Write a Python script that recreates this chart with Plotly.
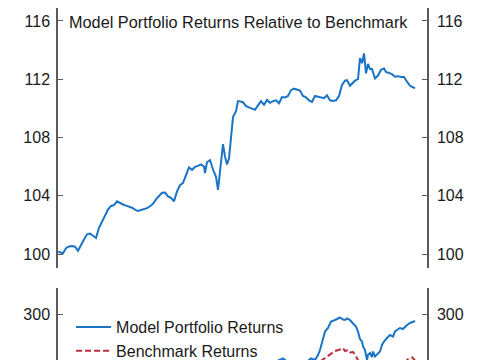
import plotly.graph_objects as go

# ---- Data ----
top_days = [0, 3, 5, 8, 11, 14, 17, 20, 23, 26, 29, 32, 35, 38, 41, 44, 47, 50, 53, 56,
            59, 62, 65, 68, 71, 74, 77, 80, 83, 86, 89, 92, 95, 98, 101, 104, 107, 110, 113, 116,
            119, 122, 125, 128, 131, 134, 137, 140, 143, 146, 147, 149, 152, 155, 158, 160, 163, 165, 167, 169,
            171, 173, 175, 178, 180, 182, 185, 188, 191, 194, 197, 200, 203, 206, 209, 212, 215, 218, 221, 224,
            227, 230, 233, 236, 239, 242, 245, 248, 251, 254, 257, 260, 263, 266, 269, 272, 275, 278, 281, 284,
            287, 289, 292, 294, 297, 300, 302, 304, 306, 308, 310, 312, 314, 317, 320, 323, 326, 328, 331, 334,
            337, 340, 343, 346, 349, 352, 355, 357]
top_vals = [100.16, 100.10, 100.05, 100.40, 100.52, 100.55, 100.50, 100.22, 100.65, 101.00,
            101.35, 101.40, 101.25, 101.10, 101.80, 102.20, 102.65, 103.05, 103.30, 103.35,
            103.62, 103.48, 103.40, 103.32, 103.25, 103.18, 103.05, 102.95, 103.02, 103.08,
            103.15, 103.28, 103.45, 103.75, 104.00, 104.20, 104.22, 103.95, 103.85, 103.62,
            104.30, 104.72, 104.88, 105.40, 105.95, 105.78, 105.98, 106.05, 106.15, 106.00,
            105.55, 106.30, 106.45, 105.80, 105.30, 104.40, 106.30, 107.55, 106.70, 106.15,
            106.55, 108.30, 109.40, 109.80, 110.50, 110.48, 110.42, 110.15, 110.05, 110.00,
            109.90, 110.20, 110.50, 110.25, 110.58, 110.38, 110.50, 110.55, 110.35, 110.78,
            110.75, 110.85, 111.25, 111.35, 111.30, 111.22, 110.85, 110.75, 110.55, 110.45,
            110.85, 110.80, 110.72, 110.70, 110.90, 110.55, 110.50, 110.55, 110.85, 111.60,
            111.90, 111.94, 111.55, 111.72, 111.90, 112.00, 113.45, 113.10, 113.77, 112.40,
            113.05, 112.70, 112.70, 112.05, 112.25, 112.65, 112.74, 112.50, 112.40, 112.35,
            112.17, 112.21, 112.15, 112.15, 111.83, 111.55, 111.45, 111.37]

model_days = [200, 217, 225, 232, 240, 248, 253, 257, 260, 262, 265, 267, 270, 273, 277, 280, 282, 285,
              287, 289, 292, 295, 298, 300, 302, 304, 305, 307, 309, 310, 312, 314, 315, 317, 320, 322,
              324, 326, 329, 332, 335, 337, 339, 342, 345, 347, 349, 352, 355, 357]
model_vals = [190, 205, 211, 200, 196, 203, 211, 208, 218, 228, 248, 265, 272, 285, 288, 291, 293, 289,
              288, 291, 288, 281, 275, 265, 250, 245, 235, 228, 208, 218, 222, 214, 225, 215, 222, 225,
              238, 245, 252, 258, 255, 265, 268, 272, 270, 275, 278, 282, 285, 286]

bench_days = [255, 262, 267, 272, 277, 282, 285, 287, 290, 292, 295, 297, 300, 302, 320, 345, 350, 354, 357]
bench_vals = [195, 205, 213, 219, 226, 229, 232, 226, 228, 223, 224, 219, 210, 200, 195, 198, 210, 213, 208]

top_ticks = [100, 104, 108, 112, 116]
bottom_ticks = [300]

BLUE = "#1a74c6"
RED = "#b8303c"
AXIS = "#5a5a5a"
TXT = "#1a1a1a"
FONT = "Liberation Sans, Arial, sans-serif"

fig = go.Figure()
fig.add_trace(go.Scatter(x=top_days, y=top_vals, mode="lines", xaxis="x", yaxis="y",
                         line=dict(color=BLUE, width=2), showlegend=False))
fig.add_trace(go.Scatter(x=model_days, y=model_vals, mode="lines", xaxis="x2", yaxis="y2",
                         name="Model Portfolio Returns", line=dict(color=BLUE, width=2)))
fig.add_trace(go.Scatter(x=bench_days, y=bench_vals, mode="lines", xaxis="x2", yaxis="y2",
                         name="Benchmark Returns", line=dict(color=RED, width=2, dash="6px,3px")))
# invisible copies so the right-hand mirror axes get drawn
fig.add_trace(go.Scatter(x=top_days, y=top_vals, mode="lines", xaxis="x", yaxis="y3",
                         opacity=0, hoverinfo="skip", showlegend=False))
fig.add_trace(go.Scatter(x=model_days, y=model_vals, mode="lines", xaxis="x2", yaxis="y4",
                         opacity=0, hoverinfo="skip", showlegend=False))

common_y = dict(ticks="inside", ticklen=5, tickcolor=AXIS, showline=True, linecolor=AXIS, linewidth=1.5,
                showgrid=False, zeroline=False, tickfont=dict(size=16, color=TXT, family=FONT))

top_range = [99.04, 116.89]
bot_range = [208, 352]

fig.update_layout(
    width=477, height=352,
    margin=dict(l=50, r=58, t=0, b=0, autoexpand=False),
    paper_bgcolor="white", plot_bgcolor="white",
    font=dict(family=FONT, color=TXT),
    xaxis=dict(domain=[0, 1], range=[0, 369], anchor="y", side="top", showline=True, linecolor=AXIS,
               linewidth=1.5, ticks="", showticklabels=False, showgrid=False, zeroline=False),
    yaxis=dict(domain=[0.2614, 1], range=top_range, tickvals=top_ticks, anchor="x", side="left",
               ticklabelstandoff=3, **common_y),
    yaxis3=dict(range=top_range, tickvals=top_ticks, overlaying="y", anchor="x", side="right",
                ticklabelstandoff=5, **common_y),
    xaxis2=dict(domain=[0, 1], range=[0, 369], anchor="y2", visible=False),
    yaxis2=dict(domain=[0, 0.2045], range=bot_range, tickvals=bottom_ticks, anchor="x2", side="left",
                ticklabelstandoff=3, **common_y),
    yaxis4=dict(range=bot_range, tickvals=bottom_ticks, overlaying="y2", anchor="x2", side="right",
                ticklabelstandoff=5, **common_y),
    legend=dict(x=0.0355, y=0.1420, xanchor="left", yanchor="top", bgcolor="rgba(0,0,0,0)",
                font=dict(size=16, color=TXT, family=FONT), itemwidth=35, tracegroupgap=0),
    annotations=[dict(text="Model Portfolio Returns Relative to Benchmark", xref="paper", yref="paper",
                      x=0.025, y=0.960, xanchor="left", yanchor="middle", showarrow=False,
                      font=dict(size=16.3, color=TXT, family=FONT))],
)

fig.write_html("out.html")
